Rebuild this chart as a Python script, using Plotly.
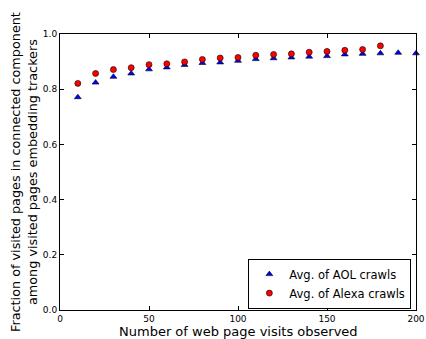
import plotly.graph_objects as go

visits_aol = [10, 20, 30, 40, 50, 60, 70, 80, 90, 100, 110, 120, 130, 140, 150, 160, 170, 180, 190, 200]
aol_avg = [0.771, 0.824, 0.845, 0.857, 0.872, 0.879, 0.888, 0.895, 0.897, 0.903, 0.909, 0.912, 0.915, 0.918, 0.920, 0.926, 0.928, 0.930, 0.932, 0.930]
visits_alexa = [10, 20, 30, 40, 50, 60, 70, 80, 90, 100, 110, 120, 130, 140, 150, 160, 170, 180]
alexa_avg = [0.821, 0.857, 0.871, 0.878, 0.889, 0.892, 0.899, 0.908, 0.913, 0.915, 0.923, 0.926, 0.928, 0.934, 0.937, 0.941, 0.944, 0.957]

fig = go.Figure()
fig.add_trace(go.Scatter(x=visits_aol, y=aol_avg, mode="markers", name="Avg. of AOL crawls",
                         marker=dict(symbol="triangle-up", size=6, color="#0000ff",
                                     line=dict(color="black", width=0.6)),
                         cliponaxis=False))
fig.add_trace(go.Scatter(x=visits_alexa, y=alexa_avg, mode="markers", name="Avg. of Alexa crawls",
                         marker=dict(symbol="circle", size=6, color="#ff0000",
                                     line=dict(color="black", width=0.6)),
                         cliponaxis=False))

axis_common = dict(showgrid=False, zeroline=False, showline=True, linecolor="black", linewidth=1,
                   mirror="ticks", ticks="inside", ticklen=4, tickcolor="black", automargin=False,
                   tickfont=dict(family="DejaVu Sans", size=9, color="black"))
fig.update_xaxes(range=[0, 200], tickvals=[0, 50, 100, 150, 200], **axis_common)
fig.update_yaxes(range=[0, 1], tickvals=[0, 0.2, 0.4, 0.6, 0.8, 1.0], tickformat=".1f", **axis_common)
fig.add_annotation(text="Number of web page visits observed", xref="paper", yref="paper",
                   x=0.5, y=0, yshift=-21, xanchor="center", yanchor="middle", showarrow=False,
                   font=dict(family="DejaVu Sans", size=13, color="black"))
fig.add_annotation(text="Fraction of visited pages in connected component<br>among visited pages embedding trackers",
                   xref="paper", yref="paper", x=0, xshift=-36, y=0.5, textangle=-90,
                   xanchor="center", yanchor="middle", showarrow=False,
                   font=dict(family="DejaVu Sans", size=12.8, color="black"))
fig.update_layout(width=426, height=339, margin=dict(l=60, r=10, t=34, b=29),
                  plot_bgcolor="white", paper_bgcolor="white",
                  font=dict(family="DejaVu Sans", color="black"),
                  legend=dict(x=0.987, y=0.005, xanchor="right", yanchor="bottom", bordercolor="black", borderwidth=1,
                              bgcolor="white", font=dict(family="DejaVu Sans", size=11.5),
                              tracegroupgap=0, itemwidth=30))
fig.write_html("out.html", config={"displayModeBar": False},
               post_script="document.body.style.margin='0';document.body.style.overflow='hidden';")
